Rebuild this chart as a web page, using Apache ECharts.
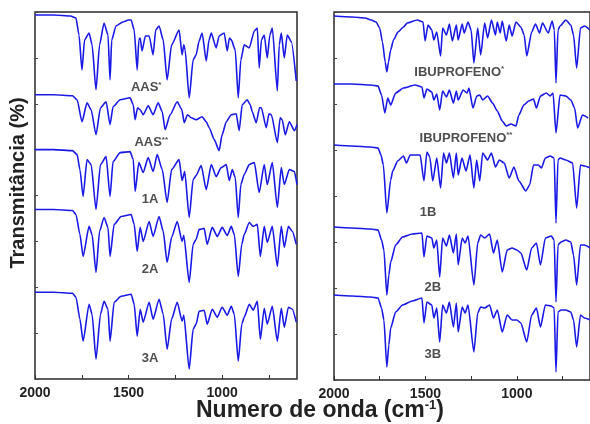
<!DOCTYPE html>
<html><head><meta charset="utf-8">
<script src="https://cdn.jsdelivr.net/npm/echarts@6/dist/echarts.min.js"></script>
<style>html,body{margin:0;padding:0;background:#fff}#c{width:590px;height:424px}</style>
</head><body><div id="c"></div>
<script>
// Spectra: [wavenumber (cm-1), transmittance (stacked, arbitrary units)]
const aasStar = [[2000,365],[1900,365],[1810,364],[1781,362],[1765,345],[1749,310],[1735,340],[1711,347],[1695,335],[1674,290],[1655,335],[1631,357],[1610,345],[1599,300],[1590,340],[1567,354],[1530,358],[1500,360],[1486,360],[1470,350],[1454,310],[1445,340],[1438,342],[1428,329],[1410,344],[1390,344],[1369,325],[1355,350],[1337,354],[1315,340],[1294,300],[1270,335],[1230,350],[1214,325],[1205,335],[1198,330],[1176,282],[1155,320],[1139,325],[1123,339],[1107,347],[1085,319],[1070,340],[1058,347],[1032,332],[1016,344],[989,347],[973,329],[961,342],[951,340],[930,330],[914,282],[900,320],[882,335],[855,332],[828,349],[812,352],[802,312],[790,340],[775,345],[759,322],[745,345],[732,352],[705,289],[695,335],[684,347],[668,322],[652,345],[630,338],[604,299]];
const aasStar2 = [[2000,285],[1900,285],[1800,284],[1775,280],[1749,258],[1722,277],[1700,270],[1674,245],[1650,272],[1620,278],[1599,255],[1583,273],[1545,280],[1492,282],[1475,275],[1465,260],[1452,272],[1438,270],[1422,265],[1395,274],[1369,265],[1342,277],[1320,268],[1305,250],[1278,265],[1240,278],[1215,270],[1203,257],[1185,265],[1165,262],[1139,260],[1107,263],[1085,258],[1069,252],[1042,240],[1016,229],[1000,245],[978,258],[951,265],[925,266],[909,249],[893,275],[866,280],[850,275],[839,268],[818,257],[800,272],[791,272],[764,252],[750,266],[737,265],[705,237],[690,262],[679,260],[663,245],[641,258],[614,249],[600,255]];
const s1A = [[2000,230],[1900,230],[1800,229],[1775,225],[1760,210],[1743,183],[1722,220],[1700,215],[1674,170],[1650,215],[1620,223],[1599,183],[1583,218],[1545,227],[1492,228],[1475,220],[1465,188],[1445,217],[1422,207],[1395,222],[1369,208],[1347,225],[1320,210],[1294,177],[1270,210],[1230,220],[1214,199],[1200,208],[1176,162],[1155,200],[1139,204],[1112,214],[1085,190],[1058,215],[1032,203],[1005,212],[978,215],[962,199],[946,210],[930,202],[914,162],[900,195],[882,205],[855,215],[828,217],[802,187],[775,215],[759,195],[732,217],[705,172],[684,212],[668,195],[641,210],[614,208],[600,195]];
const s2A = [[2000,170],[1900,170],[1800,169],[1781,165],[1760,145],[1743,123],[1711,153],[1695,145],[1674,107],[1655,148],[1631,162],[1610,152],[1599,123],[1577,155],[1540,163],[1486,165],[1470,155],[1454,128],[1438,152],[1422,138],[1390,158],[1369,143],[1337,163],[1315,148],[1294,117],[1270,142],[1240,158],[1214,138],[1205,144],[1176,97],[1155,135],[1139,140],[1123,150],[1096,151],[1080,135],[1053,152],[1026,143],[1000,152],[973,144],[951,153],[935,145],[914,103],[895,135],[882,145],[855,157],[834,153],[812,155],[796,123],[775,153],[759,137],[732,153],[705,113],[684,153],[668,132],[646,153],[625,148],[604,135]];
const s3A = [[2000,87],[1900,87],[1800,86],[1781,82],[1760,60],[1743,38],[1711,75],[1695,65],[1674,20],[1650,65],[1631,78],[1610,70],[1599,38],[1577,77],[1540,83],[1486,85],[1470,75],[1454,43],[1438,70],[1422,57],[1390,77],[1369,60],[1337,80],[1315,65],[1294,30],[1270,60],[1240,77],[1214,58],[1205,64],[1176,10],[1155,50],[1139,55],[1123,68],[1096,69],[1080,55],[1053,70],[1026,62],[1000,72],[973,64],[951,73],[935,65],[914,18],[895,55],[882,62],[855,75],[834,69],[812,78],[796,40],[775,71],[759,55],[732,73],[705,38],[684,71],[668,52],[646,72],[625,70],[604,57]];

const ibuStar = [[2000,364],[1900,363],[1830,362],[1797,360],[1770,358],[1750,352],[1735,338],[1720,318],[1711,308],[1702,318],[1690,330],[1675,340],[1650,348],[1620,353],[1599,357],[1545,360],[1513,358],[1502,339],[1486,355],[1465,350],[1454,340],[1438,348],[1417,324],[1406,352],[1385,345],[1369,356],[1353,339],[1331,355],[1321,340],[1299,356],[1288,347],[1267,358],[1250,350],[1235,317],[1214,352],[1198,325],[1176,357],[1160,342],[1139,360],[1117,345],[1107,358],[1091,347],[1080,359],[1058,339],[1042,355],[1026,344],[1005,358],[978,353],[960,345],[946,324],[919,348],[898,356],[876,347],[860,357],[828,347],[807,359],[795,350],[786,297],[775,350],[764,354],[732,360],[705,355],[690,345],[673,312],[652,352],[630,354],[600,350]];
const ibuStar2 = [[2000,296],[1900,296],[1800,295],[1759,294],[1740,285],[1722,267],[1706,282],[1690,275],[1663,287],[1620,292],[1556,295],[1519,293],[1508,282],[1492,291],[1465,288],[1454,280],[1438,286],[1422,270],[1406,289],[1385,283],[1369,290],[1347,277],[1331,289],[1321,280],[1294,290],[1272,287],[1262,292],[1240,272],[1219,284],[1203,285],[1187,280],[1160,284],[1133,277],[1107,269],[1080,259],[1058,254],[1032,256],[1005,254],[989,265],[962,275],[935,279],[909,281],[893,272],[871,284],[839,287],[818,284],[802,287],[786,247],[764,285],[732,284],[705,280],[684,272],[668,252],[641,265],[610,262]];
const s1B = [[2000,235],[1900,234],[1800,233],[1759,232],[1743,225],[1730,215],[1711,167],[1690,200],[1679,209],[1652,219],[1620,224],[1604,217],[1583,225],[1529,225],[1508,199],[1492,228],[1476,223],[1460,199],[1438,222],[1417,192],[1401,227],[1385,217],[1369,227],[1347,202],[1331,227],[1321,205],[1300,222],[1278,209],[1256,225],[1235,192],[1220,220],[1203,199],[1187,227],[1160,220],[1139,227],[1117,213],[1096,220],[1069,217],[1042,202],[1016,213],[989,199],[951,189],[930,195],[909,215],[882,215],[866,212],[844,222],[818,224],[796,222],[786,157],[775,220],[764,222],[732,220],[695,217],[673,172],[652,215],[630,214],[600,212]];
const s2B = [[2000,153],[1900,152],[1800,151],[1759,150],[1740,140],[1727,130],[1711,85],[1700,105],[1690,118],[1663,135],[1625,143],[1572,146],[1519,147],[1508,123],[1492,144],[1465,142],[1454,132],[1438,140],[1422,103],[1406,142],[1385,134],[1369,145],[1347,127],[1331,146],[1321,115],[1299,142],[1283,137],[1267,144],[1235,95],[1214,137],[1198,145],[1176,142],[1149,146],[1128,127],[1107,140],[1080,108],[1053,130],[1026,132],[1000,130],[978,127],[946,110],[919,132],[893,137],[871,115],[844,142],[812,144],[796,140],[786,78],[775,135],[759,138],[732,140],[705,138],[690,125],[673,95],[652,135],[630,135],[600,132]];
const s3B = [[2000,85],[1900,84],[1800,83],[1759,82],[1740,72],[1727,60],[1711,13],[1700,35],[1690,52],[1663,68],[1625,75],[1572,79],[1519,82],[1508,57],[1492,78],[1465,75],[1454,62],[1438,72],[1422,38],[1406,75],[1385,67],[1369,78],[1347,53],[1331,77],[1321,48],[1299,73],[1283,67],[1267,75],[1235,28],[1214,67],[1198,73],[1176,72],[1149,75],[1128,62],[1107,70],[1080,48],[1053,65],[1026,60],[1000,60],[978,57],[946,38],[919,65],[893,72],[871,53],[844,75],[812,74],[796,72],[786,8],[775,68],[759,70],[732,70],[705,68],[690,60],[673,33],[652,65],[630,62],[600,60]];

const spectraA = [aasStar, aasStar2, s1A, s2A, s3A];
const spectraB = [ibuStar, ibuStar2, s1B, s2B, s3B];
const namesA = ['AAS*', 'AAS**', '1A', '2A', '3A'];
const namesB = ['IBUPROFENO*', 'IBUPROFENO**', '1B', '2B', '3B'];
// label anchors in data units [wavenumber, transmittance]
const labelAtA = [[1406, 292], [1379, 237], [1385, 180], [1385, 110], [1385, 21]];
const labelAtB = [[1315, 308], [1278, 242], [1486, 168], [1460, 93], [1460, 26]];
const xTickLabels = [2000, 1500, 1000];
const xTickMarks = [2000, 1750, 1500, 1250, 1000, 750];

const chart = echarts.init(document.getElementById('c'), null, {renderer: 'canvas'});
const FONT = 'Liberation Sans, Arial, sans-serif';
const LINE = '#1a1ae6';

function xAxisFor(gi) {
  return {
    type: 'value', gridIndex: gi, min: 600, max: 2000, inverse: true,
    axisLine: {show: false},
    splitLine: {show: false},
    axisTick: {show: true, inside: true, length: 4, customValues: xTickMarks, lineStyle: {color: '#333'}},
    axisLabel: {show: true, customValues: xTickLabels, formatter: v => String(v), fontFamily: FONT, fontWeight: 'bold', fontSize: 14, color: '#222', margin: 7}
  };
}
function yAxisFor(gi) {
  return {
    type: 'value', gridIndex: gi, min: 0, max: 368, interval: 46,
    axisLine: {show: false}, splitLine: {show: false},
    axisTick: {show: true, inside: true, length: 3, lineStyle: {color: '#444'}},
    axisLabel: {show: false}
  };
}
const series = [];
const lineCommon = {type: 'line', showSymbol: false, symbol: 'none', smooth: 0.2, smoothMonotone: 'x', lineStyle: {color: LINE, width: 1.6}, animation: false};
spectraA.forEach((d, i) => series.push(Object.assign({}, lineCommon, {xAxisIndex: 0, yAxisIndex: 0, name: namesA[i], data: d})));
spectraB.forEach((d, i) => series.push(Object.assign({}, lineCommon, {xAxisIndex: 1, yAxisIndex: 1, name: namesB[i], data: d})));

function labelFmt(p) {
  const n = p.data.name;
  const m = n.match(/^(.*?)(\**)$/);
  return '{m|' + m[1] + '}' + (m[2] ? '{s|' + m[2] + '}' : '');
}
const richLab = {
  m: {fontFamily: FONT, fontWeight: 'bold', fontSize: 13, color: '#222'},
  s: {fontFamily: FONT, fontWeight: 'bold', fontSize: 8, color: '#222', verticalAlign: 'top', padding: [0, 0, 6, 0]}
};
[[labelAtA, namesA, 0], [labelAtB, namesB, 1]].forEach(([pos, nm, gi]) => {
  series.push({
    type: 'scatter', xAxisIndex: gi, yAxisIndex: gi, symbolSize: 0, silent: true, animation: false,
    data: pos.map((p, i) => ({value: p, name: nm[i]})),
    label: {show: true, position: 'inside', formatter: labelFmt, rich: richLab}
  });
});

chart.setOption({
  backgroundColor: '#fff',
  animation: false,
  grid: [
    {left: 35, top: 12, width: 262, height: 367, show: true, borderColor: '#2a2a2a', borderWidth: 1.5, backgroundColor: 'transparent'},
    {left: 334, top: 12, width: 262, height: 368, show: true, borderColor: '#2a2a2a', borderWidth: 1.5, backgroundColor: 'transparent'}
  ],
  xAxis: [xAxisFor(0), xAxisFor(1)],
  yAxis: [yAxisFor(0), yAxisFor(1)],
  series: series,
  graphic: [
    {type: 'text', x: 18, y: 183, rotation: Math.PI / 2,
     style: {text: 'Transmitância (%)', font: 'bold 20px ' + FONT, fill: '#222', align: 'center', verticalAlign: 'middle'}},
    {type: 'text', x: 320, y: 411,
     style: {text: '{a|Numero de onda (cm}{b|-1}{a|)}', align: 'center', verticalAlign: 'middle',
       rich: {a: {font: 'bold 23px ' + FONT, fill: '#222'}, b: {font: 'bold 13px ' + FONT, fill: '#222', verticalAlign: 'top', padding: [0, 0, 11, 0]}}}}
  ]
});
</script>
</body></html>
